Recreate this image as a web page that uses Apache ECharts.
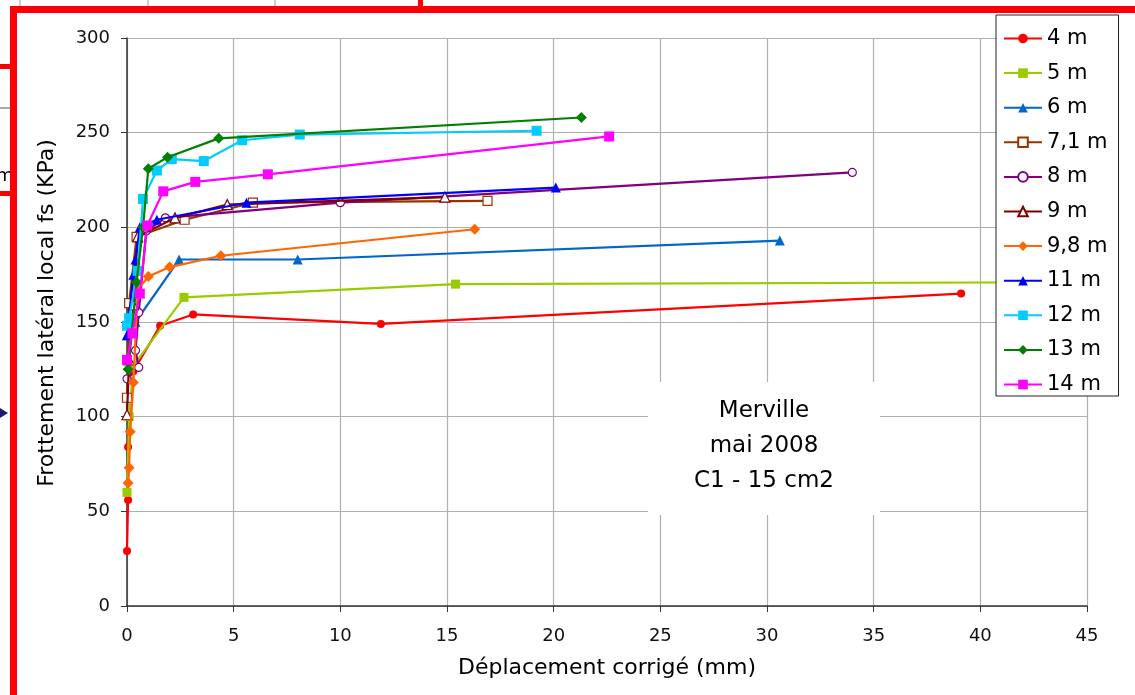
<!DOCTYPE html>
<html>
<head>
<meta charset="utf-8">
<script src="https://cdn.jsdelivr.net/npm/echarts@6/dist/echarts.min.js"></script>
<style>
html,body{margin:0;padding:0;background:#fff;}
#c{width:1135px;height:695px;}
</style>
</head>
<body>
<div id="c"></div>
<script>
// Series names
var seriesNames = ['4 m','5 m','6 m','7,1 m','8 m','9 m','9,8 m','11 m','12 m','13 m','14 m'];
// Data: [déplacement (mm), fs (kPa)]
var s4  = [[0,29],[0.05,56],[0.05,84],[0.3,124],[1.55,148],[3.1,154],[11.9,149],[39.1,165]];
var s5  = [[0,60],[0.1,100],[0.3,127],[2.67,163],[15.4,170],[44,171]];
var s6  = [[0,143],[0.4,150],[2.44,183],[8.0,183],[30.6,193]];
var s71 = [[0,110],[0.1,160],[0.45,195],[2.7,204],[5.9,213],[16.9,214]];
var s8  = [[0,120],[0.55,126],[0.4,135],[0.55,155],[0.9,198],[1.8,205],[10.0,213],[34.0,229]];
var s9  = [[0,101],[0.1,130],[0.3,159],[0.5,195],[2.25,205],[4.7,212],[14.9,216]];
var s98 = [[0.05,65],[0.1,73],[0.15,92],[0.3,118],[0.5,167],[1.0,174],[2.0,179],[4.4,185],[16.3,199]];
var s11 = [[0,143],[0.3,175],[0.4,183],[0.6,200],[1.4,204],[5.6,213],[20.1,221]];
var s12 = [[0,148],[0.1,152],[0.5,177],[0.75,215],[1.4,230],[2.1,236],[3.6,235],[5.4,246],[8.1,249],[19.2,251]];
var s13 = [[0.05,125],[0.45,171],[0.75,200],[1.0,231],[1.9,237],[4.3,247],[21.3,258]];
var s14 = [[0,130],[0.25,144],[0.6,165],[0.95,201],[1.7,219],[3.2,224],[6.6,228],[22.6,248]];
var allData = [s4,s5,s6,s71,s8,s9,s98,s11,s12,s13,s14];
// Tick settings
var xMin = 0, xMax = 45, xStep = 5;
var yMin = 0, yMax = 300, yStep = 50;
var xTitle = 'Déplacement corrigé (mm)';
var yTitle = 'Frottement latéral local fs (KPa)';
var noteLines = ['Merville','mai 2008','C1 - 15 cm2'];

var colors = ['#FF0000','#99CC00','#0066CC','#993300','#800080','#800000','#FF6600','#0000FF','#00CCFF','#008000','#FF00FF'];
var symbols = ['circle','rect','triangle','rect','circle','triangle','diamond','triangle','rect','diamond','rect'];
var symSizes = [8,9,10,9,8,10,11,10,10,11,10];
var hollow = [false,false,false,true,true,true,false,false,false,false,false];

var FONT = '"DejaVu Sans", "Liberation Sans", Arial, sans-serif';
var series = seriesNames.map(function(n,i){
  return {
    name: n, type: 'line', data: allData[i],
    symbol: symbols[i], symbolSize: symSizes[i], showAllSymbol: true,
    lineStyle: {color: colors[i], width: 2.2},
    itemStyle: {color: hollow[i] ? '#fff' : colors[i], borderColor: colors[i], borderWidth: hollow[i] ? 1.2 : 0},
    emphasis: {disabled: true},
    animation: false, z: 3 + i * 0.01
  };
});

var chart = echarts.init(document.getElementById('c'), null, {renderer: 'canvas'});
chart.setOption({
  backgroundColor: '#fff',
  animation: false,
  textStyle: {fontFamily: FONT},
  grid: {left: 127, right: 48, top: 38, bottom: 89, containLabel: false},
  xAxis: {
    type: 'value', min: xMin, max: xMax, interval: xStep,
    name: xTitle, nameLocation: 'middle', nameGap: 51,
    nameTextStyle: {fontSize: 22, color: '#000', fontFamily: FONT},
    axisLine: {show: true, onZero: false, lineStyle: {color: '#333', width: 1.5}},
    axisTick: {show: true, length: 6, lineStyle: {color: '#333'}},
    axisLabel: {fontSize: 18, color: '#111', margin: 21, fontFamily: FONT},
    splitLine: {show: true, lineStyle: {color: '#b0b0b0', width: 1.2}}
  },
  yAxis: {
    type: 'value', min: yMin, max: yMax, interval: yStep,
    name: yTitle, nameLocation: 'middle', nameGap: 69, nameRotate: 90,
    nameTextStyle: {fontSize: 22, color: '#000', fontFamily: FONT, padding: [0, 0, 0, 18]},
    axisLine: {show: true, onZero: false, lineStyle: {color: '#333', width: 1.5}},
    axisTick: {show: true, length: 6, lineStyle: {color: '#333'}},
    axisLabel: {fontSize: 18, color: '#111', margin: 17, fontFamily: FONT},
    splitLine: {show: true, lineStyle: {color: '#b0b0b0', width: 1.2}}
  },
  legend: {
    orient: 'vertical', left: 996, top: 15,
    data: seriesNames,
    itemWidth: 38, itemHeight: 12, itemGap: 13.6,
    padding: [13, 11, 1, 7],
    backgroundColor: '#fff', borderColor: '#222', borderWidth: 1,
    textStyle: {fontSize: 21, color: '#000', fontFamily: FONT},
    selectedMode: false, z: 10
  },
  series: series,
  graphic: [
    {type: 'rect', shape: {x: 648, y: 382, width: 232, height: 133}, style: {fill: '#fff'}, z: 5},
    {type: 'text', z: 6, x: 764, y: 411, style: {text: noteLines[0], fontSize: 23, fontFamily: FONT, fill: '#000', align: 'center', verticalAlign: 'middle'}},
    {type: 'text', z: 6, x: 764, y: 446, style: {text: noteLines[1], fontSize: 23, fontFamily: FONT, fill: '#000', align: 'center', verticalAlign: 'middle'}},
    {type: 'text', z: 6, x: 764, y: 481, style: {text: noteLines[2], fontSize: 23, fontFamily: FONT, fill: '#000', align: 'center', verticalAlign: 'middle'}},
    // spreadsheet frame behind the chart
    {type: 'rect', shape: {x: 10, y: 6, width: 1125, height: 7}, style: {fill: '#FF0000'}, z: 20},
    {type: 'rect', shape: {x: 10, y: 6, width: 7, height: 689}, style: {fill: '#FF0000'}, z: 20},
    {type: 'rect', shape: {x: 0, y: 64, width: 12, height: 5}, style: {fill: '#FF0000'}, z: 20},
    {type: 'rect', shape: {x: 0, y: 191, width: 12, height: 5}, style: {fill: '#FF0000'}, z: 20},
    {type: 'rect', shape: {x: 418, y: 0, width: 5, height: 8}, style: {fill: '#FF0000'}, z: 20},
    {type: 'line', shape: {x1: 0, y1: 108, x2: 10, y2: 108}, style: {stroke: '#555', lineWidth: 1}, z: 20},
    {type: 'line', shape: {x1: 20, y1: 0, x2: 20, y2: 6}, style: {stroke: '#999', lineWidth: 1}, z: 20},
    {type: 'line', shape: {x1: 148, y1: 0, x2: 148, y2: 6}, style: {stroke: '#999', lineWidth: 1}, z: 20},
    {type: 'line', shape: {x1: 275, y1: 0, x2: 275, y2: 6}, style: {stroke: '#999', lineWidth: 1}, z: 20},
    {type: 'text', z: 19, x: -4, y: 176, style: {text: 'm', fontSize: 18, fontFamily: FONT, fill: '#000', verticalAlign: 'middle'}},
    {type: 'polygon', shape: {points: [[0,408],[8,413],[0,418]]}, style: {fill: '#1a1a6e'}, z: 20}
  ]
});
</script>
</body>
</html>
